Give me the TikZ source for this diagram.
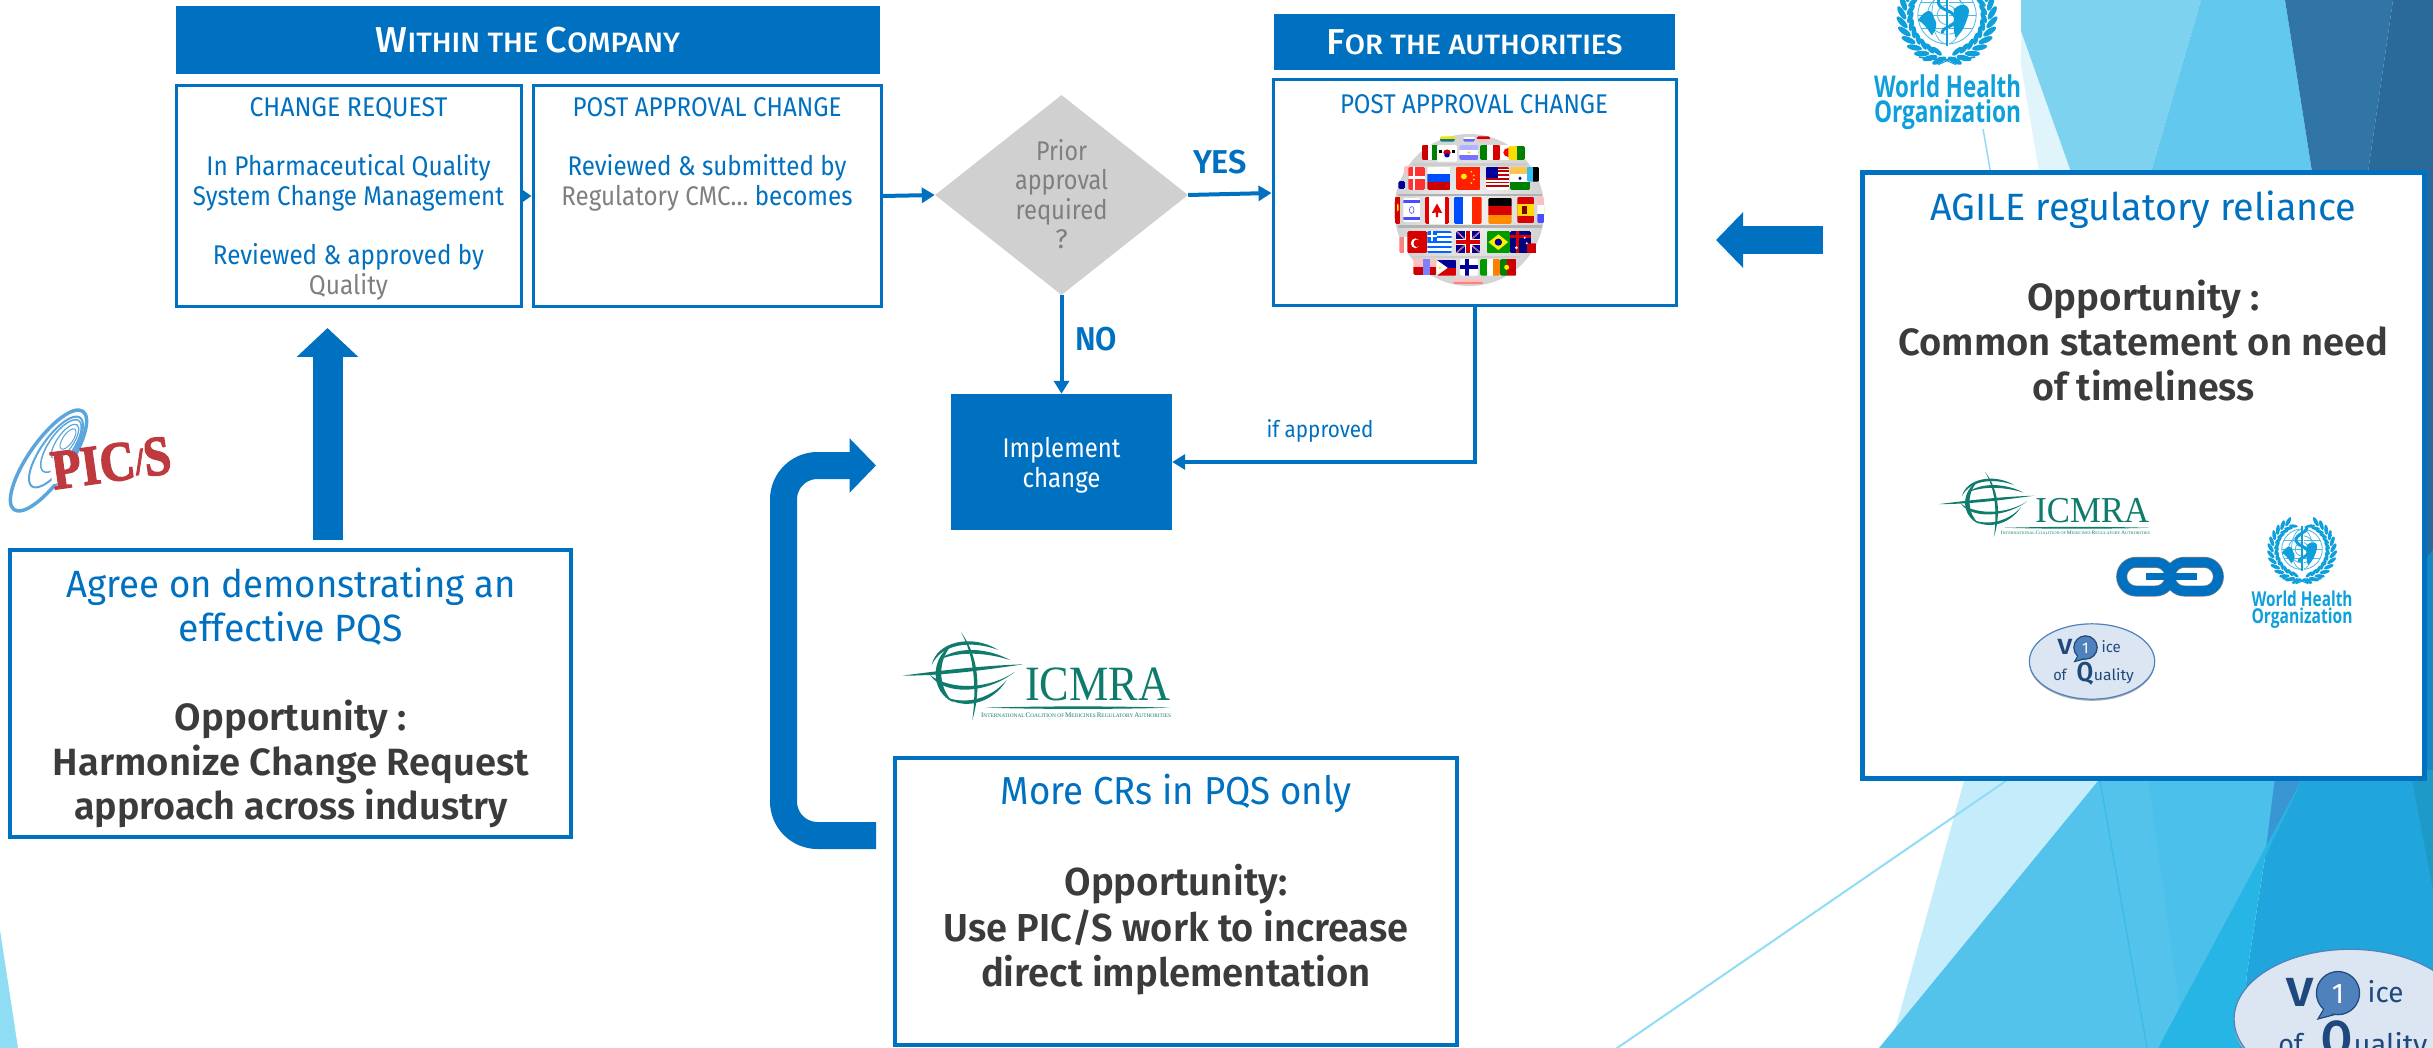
\documentclass[tikz,border=0pt]{standalone}
\usepackage{fontspec}
\usepackage{graphicx}
\usetikzlibrary{shapes.geometric,arrows.meta}
\setmainfont{Fira Sans}[BoldFont={Fira Sans SemiBold}]
\newfontfamily\medfont{Fira Sans Medium}
\newfontfamily\lserif{Liberation Serif}
\newfontfamily\picfont{Liberation Serif}[BoldFeatures={FakeBold=2.5}]
\newfontfamily\whofont{Open Sans}
\definecolor{mainblue}{HTML}{0070C0}
\definecolor{txgray}{HTML}{7F7F7F}
\definecolor{txdark}{HTML}{3B3B3B}
\definecolor{dmd}{HTML}{D0D0D0}
\definecolor{whoc}{HTML}{0FA0DC}
\definecolor{icm}{HTML}{0F7B6C}
\definecolor{picred}{HTML}{BE3A3F}
\definecolor{picblue}{HTML}{5AA5DC}
\definecolor{voqfill}{HTML}{DCE6F2}
\definecolor{voqedge}{HTML}{4F81BD}
\definecolor{voqtext}{HTML}{1F497D}
\newcommand\tw[2]{\resizebox{#1pt}{\height}{#2}}
\newcommand\hc[2]{{\fontsize{36}{40}\selectfont #1}{\fontsize{28}{40}\selectfont #2}}
\newcommand\tc[2]{{\fontsize{21}{24}\selectfont #1}{\fontsize{16}{24}\selectfont #2}}
\newcommand\flagat[5]{\begin{scope}[shift={(#1,#2)},xscale={#3-#1},yscale={#4-#2}]\begin{scope}\clip[rounded corners=1.5pt] (0,0) rectangle (1,1); #5 \end{scope}\end{scope}}
\newcommand\hb[3]{\fill[#3] (0,#1) rectangle (1,#2);}
\newcommand\vb[3]{\fill[#3] (#1,0) rectangle (#2,1);}
\tikzset{
  x=1pt,y=-1pt,
  bluebox/.style={draw=mainblue,fill=white,inner sep=0,line width=3pt},
  hdr/.style={fill=mainblue,text=white,inner sep=0,align=center,font=\medfont},
  txt/.style={inner sep=0,align=center,anchor=center},
  small/.style={font=\fontsize{27}{29.6}\selectfont,text=mainblue},
  conn/.style={draw=mainblue,line width=4pt,-{Triangle[length=13pt,width=15pt]}},
  block/.style={draw=mainblue,line width=#1,line cap=butt},
  who/.pic={
    \foreach \a in {100,112,...,250}{
      \fill[whoc] ({42*cos(\a)},{42*sin(\a)}) ellipse [x radius=7,y radius=2.6,rotate={-\a+90+35}];
      \fill[whoc] ({34*cos(\a+6)},{34*sin(\a+6)}) ellipse [x radius=6,y radius=2.2,rotate={-\a+90-30}];
    }
    \foreach \a in {80,68,...,-70}{
      \fill[whoc] ({42*cos(\a)},{42*sin(\a)}) ellipse [x radius=7,y radius=2.6,rotate={-\a+90-35}];
      \fill[whoc] ({34*cos(\a-6)},{34*sin(\a-6)}) ellipse [x radius=6,y radius=2.2,rotate={-\a+90+30}];
    }
    \draw[whoc,line width=1.6pt] (-26,38) .. controls (-12,41) and (12,41) .. (26,38);
    \draw[whoc,line width=1pt] (-8,45) -- (8,38) (8,45) -- (-8,38);
    \draw[whoc!75,line width=.8pt] (0,-1) circle [radius=27] circle [radius=18] circle [radius=9];
    \draw[whoc!75,line width=.7pt] (-27,-1) -- (27,-1) (-24,-13) -- (24,-13) (-24,11) -- (24,11);
    \draw[whoc!75,line width=.7pt] (0,-1) ellipse [x radius=14,y radius=27];
    \fill[whoc] (-27,4) .. controls (-20,-6) and (-14,-8) .. (-12,2) .. controls (-8,8) and (-10,12) .. (-14,18) .. controls (-18,12) and (-22,6) .. (-27,4) -- cycle;
    \fill[whoc] (6,-6) .. controls (14,-14) and (22,-10) .. (20,-2) .. controls (18,6) and (14,16) .. (8,20) .. controls (4,10) and (8,2) .. (6,-6) -- cycle;
    \draw[white,line width=3pt] (0,-32) -- (0,28);
    \draw[whoc,line width=2.4pt] (0,-32) -- (0,28);
    \draw[whoc,line width=3pt] (5,-32) .. controls (12,-24) and (-10,-22) .. (-8,-12) .. controls (-6,-4) and (8,-6) .. (8,4) .. controls (8,10) and (-6,10) .. (-4,16);
  },
  icmra/.pic={
    \fill[icm] (22,152) .. controls (150,135) and (260,122) .. (385,118) .. controls (260,136) and (150,152) .. (22,152) -- cycle;
    \fill[icm] (110,120) .. controls (125,50) and (230,25) .. (310,75) .. controls (230,45) and (140,55) .. (110,120) -- cycle;
    \fill[icm] (130,105) .. controls (190,60) and (280,70) .. (345,105) .. controls (280,85) and (200,75) .. (130,105) -- cycle;
    \fill[icm] (105,150) .. controls (150,215) and (280,205) .. (360,140) .. controls (290,190) and (170,200) .. (105,150) -- cycle;
    \fill[icm] (170,60) .. controls (105,100) and (105,200) .. (175,232) .. controls (130,190) and (125,110) .. (170,60) -- cycle;
    \fill[icm] (150,215) .. controls (200,255) and (290,240) .. (335,165) .. controls (285,225) and (205,240) .. (150,215) -- cycle;
    \fill[icm] (198,22) .. controls (250,90) and (260,190) .. (232,285) .. controls (245,190) and (238,90) .. (198,22) -- cycle;
    \fill[icm] (270,248) .. controls (450,243) and (650,243) .. (825,248) .. controls (650,253) and (450,253) .. (270,248) -- cycle;
    \node[transform shape,inner sep=0,anchor=base west,text=icm,font=\fontsize{148}{148}\lserif\selectfont] (big) at (390,225) {\tw{435}{ICMRA}};
    \node[transform shape,inner sep=0,anchor=base west,text=icm,font=\lserif] (fine) at (258,277) {\tw{570}{\tc{I}{NTERNATIONAL} \tc{C}{OALITION OF} \tc{M}{EDICINES} \tc{R}{EGULATORY} \tc{A}{UTHORITIES}}};
  },
  voq/.pic={
    \fill[gray!60] (0,5) ellipse [x radius=188,y radius=113];
    \draw[voqedge,fill=voqfill,line width=1.2pt] (0,0) ellipse [x radius=188,y radius=113];
    \node[transform shape,inner sep=0,anchor=base west,text=voqtext,font=\fontsize{66}{66}\bfseries\selectfont] (v) at (-103.5,-20) {\tw{44}{V}};
    \fill[voqedge,draw=voqtext,line width=1.2pt] (-42,-17) -- (-52,0) -- (-22,-8) -- cycle;
    \fill[voqedge,draw=voqtext,line width=1.2pt] (-19.5,-42) circle [radius=35];
    \fill[voqedge] (-40,-20) -- (-46,-5) -- (-24,-10) -- cycle;
    \node[transform shape,inner sep=0,text=white,font=\fontsize{46}{46}\selectfont] (one) at (-19.5,-40) {1};
    \node[transform shape,inner sep=0,anchor=base west,text=voqtext,font=\fontsize{46}{46}\selectfont] (ice) at (28.5,-27) {\tw{58}{ice}};
    \node[transform shape,inner sep=0,anchor=base west,text=voqtext,font=\fontsize{46}{46}\selectfont] (of) at (-116.5,58) {\tw{40}{of}};
    \node[transform shape,inner sep=0,anchor=base west,text=voqtext,font=\fontsize{82}{82}\bfseries\selectfont] (q) at (-46.5,60) {\tw{50}{Q}};
    \node[transform shape,inner sep=0,anchor=base west,text=voqtext,font=\fontsize{46}{46}\selectfont] (uality) at (5.5,58) {\tw{120}{uality}};
  },
  chainlink/.pic={
    \draw[gray,line width=11pt,rounded corners=14.3pt] (305,67) rectangle (450,153);
    \draw[gray,line width=11pt,rounded corners=14.3pt] (450,67) rectangle (595,153);
    \draw[mainblue,line width=9.6pt,rounded corners=14.3pt] (305,67) rectangle (450,153);
    \draw[mainblue,line width=9.6pt,rounded corners=14.3pt] (450,67) rectangle (595,153);
    \draw[mainblue,line width=6.7pt] (378,110) -- (530,110);
  },
  flagglobe/.pic={
    \shade[inner color=gray!8,outer color=gray!35] (268,255) ellipse [x radius=225,y radius=228];
    \fill[gray!60] (55,206) rectangle (485,213);
    \fill[gray!60] (55,300) rectangle (485,310);
    \fill[gray!40] (100,115) rectangle (440,122);
    \fill[gray!40] (100,392) rectangle (420,398);
    % top and bottom caps
    \flagat{180}{34}{225}{50}{\hb{0}{.5}{yellow!80!orange}\hb{.5}{1}{teal}}
    \flagat{250}{36}{285}{50}{\hb{0}{.5}{white}\hb{.5}{1}{blue!60}}
    \flagat{290}{34}{330}{50}{\hb{0}{.5}{red!80!black}\hb{.5}{1}{pink}}
    \flagat{220}{462}{310}{478}{\hb{0}{.5}{pink}\hb{.5}{1}{red!50}}
    % row 1
    \flagat{125}{60}{175}{105}{\hb{0}{1}{white}\vb{0}{.4}{red!80!black}\vb{.6}{1}{green!50!black}}
    \flagat{170}{60}{232}{110}{\hb{0}{1}{white}\fill[red!80!black] (.5,.45) circle [radius=.18];\fill[blue!70!black] (.5,.62) circle [radius=.13];\fill[black] (.12,.3) rectangle (.25,.5);\fill[black] (.75,.3) rectangle (.88,.5);}
    \flagat{238}{60}{295}{105}{\hb{0}{.33}{blue!30}\hb{.33}{.66}{white}\hb{.66}{1}{blue!55}\fill[yellow!70!orange] (.5,.5) circle [radius=.08];}
    \flagat{300}{60}{360}{105}{\vb{0}{.35}{green!50!black}\vb{.35}{.65}{white}\vb{.65}{1}{red!85!black}}
    \flagat{360}{60}{410}{105}{\hb{0}{1}{white}\fill[red] (.5,.5) circle [radius=.3];}
    \flagat{385}{62}{435}{105}{\vb{0}{.5}{yellow!80!orange}\vb{.5}{1}{green!50!black}}
    % row 2
    \flagat{55}{168}{75}{192}{\hb{0}{1}{blue!60!black}}
    \flagat{72}{123}{97}{148}{\hb{0}{1}{pink}}
    \flagat{85}{125}{135}{195}{\hb{0}{1}{red!75!pink}\hb{.42}{.55}{white}\vb{.3}{.42}{white}}
    \flagat{142}{125}{212}{195}{\hb{0}{.33}{white}\hb{.33}{.66}{blue!70!cyan}\hb{.66}{1}{red!80!black}}
    \flagat{228}{125}{302}{195}{\hb{0}{1}{red!75!orange}\fill[yellow] (.32,.42) circle [radius=.12];\fill[yellow] (.62,.22) circle [radius=.04];\fill[yellow] (.72,.38) circle [radius=.04];\fill[yellow] (.72,.55) circle [radius=.04];\fill[yellow] (.62,.7) circle [radius=.04];}
    \flagat{318}{125}{388}{195}{\hb{0}{1}{white}\foreach \q in {0,.16,.32,.48,.64,.8}{\fill[red!75!black] (0,\q) rectangle (1,{\q+.08});}\fill[blue!60!black] (0,0) rectangle (.5,.48);}
    \flagat{390}{125}{450}{195}{\hb{0}{.33}{yellow!40!orange!70}\hb{.33}{.66}{white}\hb{.66}{1}{green!50!black}\fill[blue!60!black] (.5,.5) circle [radius=.08];}
    \flagat{440}{125}{478}{170}{\vb{0}{.5}{cyan!80}\vb{.5}{1}{black}}
    % row 3
    \flagat{45}{215}{62}{297}{\hb{0}{1}{red!85!black}\fill[yellow] (.5,.4) circle [radius=.15];}
    \flagat{70}{218}{120}{292}{\hb{0}{1}{white}\hb{.08}{.2}{blue!70}\hb{.8}{.92}{blue!70}\draw[blue!70,line width=.6pt] (.5,.5) circle [radius=.14];}
    \flagat{135}{215}{207}{297}{\hb{0}{1}{white}\vb{0}{.18}{red!90!black}\vb{.82}{1}{red!90!black}\fill[red!90!black] (.5,.25) -- (.72,.6) -- (.55,.58) -- (.55,.75) -- (.45,.75) -- (.45,.58) -- (.28,.6) -- cycle;}
    \flagat{222}{215}{305}{297}{\vb{0}{.33}{blue!70!cyan}\vb{.33}{.66}{white}\vb{.66}{1}{red!70!orange}}
    \flagat{325}{218}{395}{297}{\hb{0}{.33}{black}\hb{.33}{.66}{red!85!black}\hb{.66}{1}{orange!90!yellow}}
    \flagat{412}{215}{462}{295}{\hb{0}{1}{red!85!black}\hb{.28}{.72}{yellow!80!orange}\fill[red!50!black] (.3,.35) rectangle (.55,.65);}
    \flagat{472}{215}{492}{295}{\hb{0}{.33}{pink}\hb{.33}{.66}{white}\hb{.66}{1}{blue!70}}
    % row 4
    \flagat{58}{335}{95}{385}{\vb{0}{.4}{red!50!white}\vb{.4}{.7}{white}\vb{.7}{1}{blue!50}}
    \flagat{82}{318}{142}{385}{\hb{0}{1}{red!85!black}\fill[white] (.4,.55) circle [radius=.22];\fill[red!85!black] (.48,.55) circle [radius=.17];}
    \flagat{142}{318}{215}{385}{\hb{0}{1}{white}\foreach \q in {0,.22,.44,.66,.88}{\fill[blue!60!cyan] (0,\q) rectangle (1,{\q+.11});}\fill[blue!60!cyan] (0,0) rectangle (.4,.44);\fill[white] (.15,0) rectangle (.25,.44);\fill[white] (0,.18) rectangle (.4,.28);}
    \flagat{228}{318}{302}{385}{\hb{0}{1}{blue!60!black}\draw[white,line width=1.2pt] (0,0) -- (1,1) (1,0) -- (0,1);\draw[red!85!black,line width=.5pt] (0,0) -- (1,1) (1,0) -- (0,1);\hb{.36}{.64}{white}\vb{.36}{.64}{white}\hb{.42}{.58}{red!85!black}\vb{.42}{.58}{red!85!black}}
    \flagat{320}{318}{390}{385}{\hb{0}{1}{green!60!black}\fill[yellow] (.08,.5) -- (.5,.15) -- (.92,.5) -- (.5,.85) -- cycle;\fill[blue!60!black] (.5,.5) circle [radius=.16];}
    \flagat{390}{318}{453}{385}{\hb{0}{1}{blue!50!black}\hb{.18}{.3}{red!85!black}\vb{.3}{.42}{red!85!black}\fill[white] (.7,.3) circle [radius=.05];\fill[white] (.8,.55) circle [radius=.05];\fill[white] (.3,.75) circle [radius=.07];}
    \flagat{440}{355}{470}{385}{\hb{0}{1}{red!80!black}}
    % row 5
    \flagat{100}{402}{170}{450}{\hb{0}{.5}{pink}\hb{.5}{1}{red!80!black}\vb{.4}{.7}{blue!50}}
    \flagat{170}{405}{230}{452}{\hb{0}{.5}{blue!60!black}\hb{.5}{1}{red!85!black}\fill[white] (0,0) -- (.55,.5) -- (0,1) -- cycle;\fill[yellow] (.16,.5) circle [radius=.08];}
    \flagat{240}{402}{295}{452}{\hb{0}{1}{white}\hb{.38}{.62}{blue!60!black}\vb{.28}{.48}{blue!60!black}}
    \flagat{300}{402}{360}{452}{\vb{0}{.33}{green!60!black}\vb{.33}{.66}{white}\vb{.66}{1}{orange}}
    \flagat{360}{402}{410}{452}{\vb{0}{.4}{green!50!black}\vb{.4}{1}{red!80!black}\fill[yellow] (.4,.5) circle [radius=.15];}
  },
}
\begin{document}
\begin{tikzpicture}
\useasboundingbox (0,0) rectangle (2433,1048);
\begin{scope}
\clip (0,0) rectangle (2433,1048);
% background, top right
\fill[color={rgb,255:red,224;green,244;blue,251}] (2021,31) -- (2071,172) -- (2039,172) -- (2021,65) -- cycle;
\fill[color={rgb,255:red,125;green,210;blue,240}] (2021,0) -- (2201,0) -- (2151,172) -- (2071,172) -- (2021,31) -- cycle;
\fill[color={rgb,255:red,98;green,200;blue,238}] (2201,0) -- (2285,0) -- (2312,172) -- (2151,172) -- cycle;
\fill[color={rgb,255:red,48;green,117;blue,166}] (2285,0) -- (2393,0) -- (2368,172) -- (2312,172) -- cycle;
\fill[color={rgb,255:red,42;green,106;blue,154}] (2393,0) -- (2433,0) -- (2433,575) -- (2410,575) -- (2410,172) -- (2368,172) -- cycle;
\fill[color={rgb,255:red,20;green,135;blue,196}] (2410,575) -- (2433,550) -- (2433,800) -- (2410,800) -- cycle;
\draw[color={rgb,255:red,143;green,220;blue,245},line width=1.5pt] (1983,129) -- (1991,175);
% background, bottom right
\fill[color={rgb,255:red,197;green,236;blue,250}] (1967,770) -- (2107,770) -- (1895,1030) -- cycle;
\fill[color={rgb,255:red,84;green,195;blue,236}] (2107,770) -- (2276,770) -- (2265,857) -- (2158,1048) -- (1879,1048) -- cycle;
\fill[color={rgb,255:red,75;green,192;blue,234}] (2147,770) -- (2276,770) -- (2265,857) -- (2180,1010) -- cycle;
\fill[color={rgb,255:red,32;green,166;blue,221}] (2276,770) -- (2433,770) -- (2433,1048) -- (2240,1048) -- (2247,973) -- (2265,857) -- cycle;
\fill[color={rgb,255:red,58;green,150;blue,210}] (2276,770) -- (2307,770) -- (2265,857) -- cycle;
\fill[color={rgb,255:red,39;green,181;blue,229}] (2307,770) -- (2265,857) -- (2247,973) -- (2240,1048) -- (2158,1048) -- cycle;
\fill[color={rgb,255:red,30;green,154;blue,201}] (2410,770) -- (2433,770) -- (2433,890) -- cycle;
\draw[color={rgb,255:red,62;green,187;blue,232},line width=1.5pt] (2099,775) -- (2147,1048);
\draw[color={rgb,255:red,143;green,220;blue,245},line width=2pt] (2014.5,775) -- (1607,1055);
\fill[color={rgb,255:red,143;green,220;blue,245}] (0,930) -- (18,1048) -- (0,1048) -- cycle;

% headers
\node[hdr,minimum width=704pt,minimum height=68pt] (hcompany) at (528,40) {\tw{304}{\hc{W}{ITHIN THE\ }\hc{C}{OMPANY}}};
\node[hdr,minimum width=401pt,minimum height=56pt] (hauth) at (1474.5,42.5) {\tw{296}{\hc{F}{OR THE AUTHORITIES}}};

% flow boxes
\node[bluebox,minimum width=345pt,minimum height=221.5pt] (cr) at (348.5,196) {};
\node[bluebox,minimum width=348pt,minimum height=221.5pt] (pac) at (707,196) {};
\node[bluebox,minimum width=403pt,minimum height=226pt] (auth) at (1474.5,193) {};
\node[diamond,aspect=1.265,fill=dmd,inner sep=0,minimum width=253pt,minimum height=200pt] (dec) at (1061.5,195) {};
\node[txt,text=txgray,font=\fontsize{27}{29.5}\selectfont] (dectext) at (1061.5,194) {\tw{51}{Prior}\\\tw{93}{approval}\\\tw{92}{required}\\?};
\node[fill=mainblue,inner sep=0,minimum width=221pt,minimum height=136pt] (impl) at (1061.5,462) {};
\node[txt,text=white,font=\fontsize{27}{29.5}\selectfont] (impltext) at (1061.5,465) {\tw{118}{Implement}\\\tw{78}{change}};

\node[txt,small] (crtext) at (348.5,199) {\tw{198}{CHANGE REQUEST}\\[29.6pt]\tw{284}{In Pharmaceutical Quality}\\\tw{311}{System Change Management}\\[29.6pt]\tw{271}{Reviewed \& approved by}\\\tw{79}{\color{txgray}Quality}};
\node[txt,small] (pactext) at (707,154.5) {\tw{269}{POST APPROVAL CHANGE}\\[29.6pt]\tw{279}{Reviewed \& submitted by}\\\tw{291}{\color{txgray}Regulatory CMC… \color{mainblue}becomes}};
\node[txt,small] (authtext) at (1474,104) {\tw{268}{POST APPROVAL CHANGE}};

% connectors
\draw[conn,-{Triangle[length=10pt,width=13pt]}] (cr.east) -- (pac.west);
\draw[conn] (pac.east) -- (dec.west);
\draw[conn] (dec.east) -- (auth.west);
\draw[conn] (dec.south) -- (impl.north);
\draw[conn] (auth.south) |- (impl.east);
\node[txt,text=mainblue,font=\fontsize{33}{36}\bfseries\selectfont] (yes) at (1220,162) {\tw{54}{YES}};
\node[txt,text=mainblue,font=\fontsize{33}{36}\bfseries\selectfont] (no) at (1096,339) {\tw{42}{NO}};
\node[txt,text=mainblue,font=\fontsize{23}{26}\selectfont] (ifapp) at (1320,431) {\tw{107}{if approved}};

% globe of flags
\pic[shift={(1380,125)},scale=1/3] (globe) {flagglobe};

% opportunity boxes
\node[bluebox,line width=4pt,minimum width=561pt,minimum height=287pt] (pqs) at (290.5,693.5) {};
\node[bluebox,line width=4pt,minimum width=562pt,minimum height=287pt] (more) at (1176,901.5) {};
\node[bluebox,line width=5pt,minimum width=562pt,minimum height=606pt] (agile) at (2143,475.5) {};

\node[txt,text=mainblue,font=\fontsize{38}{44.5}\selectfont] (pqstext) at (291,698) {\tw{449}{Agree on demonstrating an}\\\tw{224}{effective PQS}\\[44.5pt]\color{txdark}\bfseries\tw{232}{Opportunity :}\\\color{txdark}\bfseries\tw{476}{Harmonize Change Request}\\\color{txdark}\bfseries\tw{434}{approach across industry}};
\node[txt,text=mainblue,font=\fontsize{39}{45.5}\selectfont] (moretext) at (1176,885) {\tw{351}{More CRs in PQS only}\\[45.5pt]\color{txdark}\bfseries\tw{223}{Opportunity:}\\\color{txdark}\bfseries\tw{465}{Use PIC/S work to increase}\\\color{txdark}\bfseries\tw{390}{direct implementation}};
\node[txt,text=mainblue,font=\fontsize{38}{45}\selectfont] (agiletext) at (2143.5,296) {\tw{426}{AGILE regulatory reliance}\\[45pt]\color{txdark}\bfseries\tw{233}{Opportunity :}\\\color{txdark}\bfseries\tw{490}{Common statement on need}\\\color{txdark}\bfseries\tw{222}{of timeliness}};

% block arrows
\coordinate (upstart) at (327.5,540);
\coordinate (uptip) at (327.5,328);
\draw[block=30pt,-{Triangle[length=29pt,width=60pt]}] (upstart) -- (uptip);
\coordinate (leftstart) at (1823,240);
\coordinate (lefttip) at (1716,240);
\draw[block=28pt,-{Triangle[length=27pt,width=54pt]}] (leftstart) -- (lefttip);
\coordinate (cstart) at (876,835.5);
\coordinate (cc1) at (783.5,835.5);
\coordinate (cc2) at (783.5,465.5);
\coordinate (ctip) at (876,465.5);
\draw[block=27pt,rounded corners=34pt,-{Triangle[length=26.5pt,width=53pt]}] (cstart) -- (cc1) -- (cc2) -- (ctip);

% PIC/S logo
\draw[picblue,line width=3.5pt] (48.5,460.5) ellipse [x radius=60,y radius=20,rotate=55];
\draw[picblue,line width=2pt] (56,452) ellipse [x radius=42,y radius=15,rotate=55];
\draw[picblue,line width=1.5pt] (61,446) ellipse [x radius=31,y radius=12,rotate=55];
\draw[picblue,line width=1.2pt] (65,442) ellipse [x radius=21,y radius=8,rotate=55];
\draw[picblue,line width=1pt] (68,439) ellipse [x radius=12,y radius=5,rotate=55];
\node[rotate=8,fill=white,inner xsep=1pt,inner ysep=-6pt,text=picred,font=\fontsize{56}{56}\picfont\bfseries\selectfont] (picstext) at (111,463) {\tw{120}{PIC\raisebox{3pt}{\fontsize{38}{38}\selectfont/}S}};

% logos
\pic[shift={(1947,16)},scale=1.08] (whotop) {who};
\node[txt,text=whoc,font=\fontsize{30}{25}\whofont\bfseries\selectfont] (whotoptext) at (1947.5,102) {\tw{147}{World Health}\\\tw{147}{Organization}};
\pic[shift={(2302,550)},scale=.75] (whosmall) {who};
\node[txt,text=whoc,font=\fontsize{20.5}{16.7}\whofont\bfseries\selectfont] (whosmalltext) at (2302,610) {\tw{101}{World Health}\\\tw{101}{Organization}};
\pic[shift={(895,625)},scale=1/3] (icmid) {icmra};
\pic[shift={(1933.2,466.6)},xscale=.2617,yscale=.2467] (icagile) {icmra};
\pic[shift={(2020,540)},scale=1/3] (chain) {chainlink};
\pic[shift={(2092,661.5)},scale=1/3] (voqa) {voq};
\pic[shift={(2350,1019)},scale=1.85/3] (voqb) {voq};
\end{scope}
\end{tikzpicture}
\end{document}
